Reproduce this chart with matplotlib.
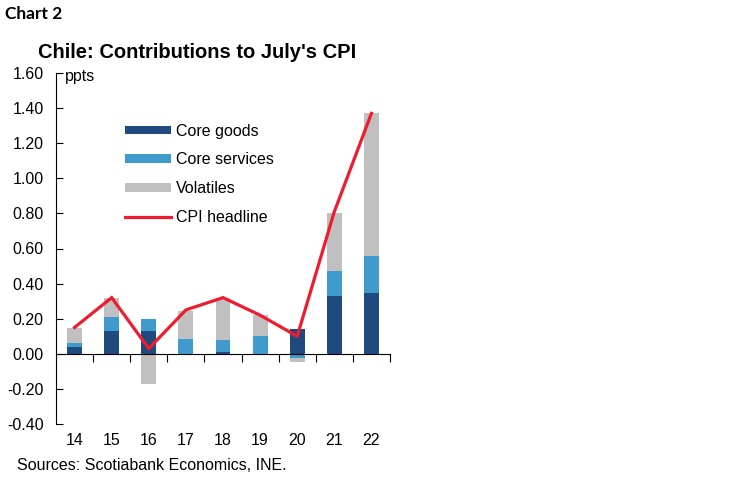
import numpy as np
import matplotlib
matplotlib.use("Agg")
import matplotlib.pyplot as plt

plt.rcParams['font.family'] = ['Liberation Sans', 'DejaVu Sans']

# values (ppts)
years = ['14', '15', '16', '17', '18', '19', '20', '21', '22']
core_goods = [0.04, 0.13, 0.13, 0.0, 0.013, 0.0, 0.14, 0.33, 0.345]
core_services = [0.02, 0.08, 0.07, 0.082, 0.067, 0.10, -0.025, 0.14, 0.21]
volatiles = [0.085, 0.11, -0.17, 0.163, 0.237, 0.12, -0.02, 0.335, 0.815]
cpi_headline = [0.15, 0.32, 0.03, 0.25, 0.32, 0.22, 0.10, 0.81, 1.37]

c_goods = '#1f4a7d'
c_serv = '#3f9acd'
c_vol = '#c0c0c0'
c_cpi = '#ee1c2e'

fig = plt.figure(figsize=(7.5, 4.82), dpi=100)
ax = fig.add_axes([56 / 750, 58 / 482, 334 / 750, 351 / 482])

x = np.arange(len(years))
pos_base = np.zeros(len(years))
neg_base = np.zeros(len(years))
for vals, col, lab in [(core_goods, c_goods, 'Core goods'),
                       (core_services, c_serv, 'Core services'),
                       (volatiles, c_vol, 'Volatiles')]:
    vals = np.array(vals)
    bottoms = np.where(vals >= 0, pos_base, neg_base)
    ax.bar(x, vals, width=0.4, bottom=bottoms, color=col, label=lab)
    pos_base = pos_base + np.clip(vals, 0, None)
    neg_base = neg_base + np.clip(vals, None, 0)

ax.plot(x, cpi_headline, color=c_cpi, lw=2.3, label='CPI headline',
        solid_joinstyle='miter')

ax.set_xlim(-0.5, 8.5)
ax.set_ylim(-0.4, 1.6)
ax.set_yticks(np.arange(-0.4, 1.61, 0.2))
ax.yaxis.set_major_formatter(matplotlib.ticker.FormatStrFormatter('%.2f'))
ax.tick_params(axis='y', direction='in', length=5, pad=9, labelsize=11.5,
               colors='black')

ax.spines['top'].set_visible(False)
ax.spines['right'].set_visible(False)
ax.spines['bottom'].set_position(('data', 0))
ax.set_xticks(x + 0.5)
ax.set_xticklabels([])
ax.tick_params(axis='x', direction='out', length=6)

for xi, lab in zip(x, years):
    ax.text(xi, -0.048, lab, transform=ax.get_xaxis_transform(),
            ha='center', va='center', fontsize=11.5)

ax.text(0.027, 0.989, 'ppts', transform=ax.transAxes, ha='left',
        va='center', fontsize=11.5)

handles, labels = ax.get_legend_handles_labels()
order = [1, 2, 3, 0]
ax.legend([handles[i] for i in order], [labels[i] for i in order],
          loc='upper left', bbox_to_anchor=(0.207, 0.855), frameon=False,
          fontsize=11.5, borderpad=0, borderaxespad=0, handlelength=2.9,
          handleheight=0.45, handletextpad=0.3, labelspacing=0.85)

fig.text(5 / 750, 1 - 14 / 482, 'Chart 2', family='Lato', weight='bold',
         fontsize=12.5, ha='left', va='center')
fig.text(197 / 750, 1 - 52 / 482, "Chile: Contributions to July's CPI",
         weight='bold', fontsize=14.5, ha='center', va='center')
fig.text(17 / 750, 1 - 465 / 482, 'Sources: Scotiabank Economics, INE.',
         fontsize=11.5, ha='left', va='center')

fig.savefig('out.png', dpi=100)
